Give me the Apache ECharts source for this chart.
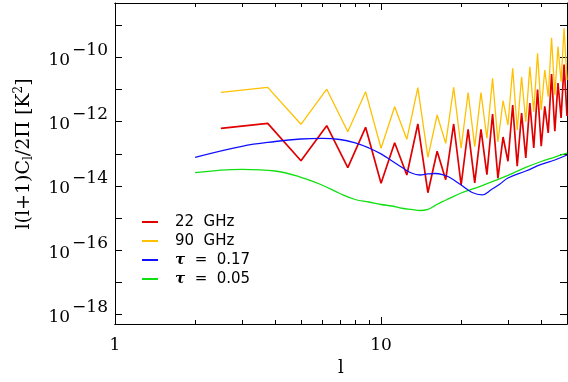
<!DOCTYPE html>
<html>
<head>
<meta charset="utf-8">
<script src="https://cdn.jsdelivr.net/npm/echarts@6/dist/echarts.min.js"></script>
<style>
  html, body { margin: 0; padding: 0; background: #fff; }
  #chart { width: 568px; height: 382px; }
</style>
</head>
<body>
<div id="chart"></div>
<script>
// multipole bins of the foreground spectra
const lBins = [2.5, 3.75, 5, 6.25, 7.5, 8.75, 10, 11.25, 12.5, 13.75, 15, 16.25, 17.5, 18.75,
  20, 21.25, 22.5, 23.75, 25, 26.25, 27.5, 28.75, 30, 31.25, 32.5, 33.75, 35, 36.25, 37.5,
  38.75, 40, 41.25, 42.5, 43.75, 45, 46.25, 47.5, 48.75, 50];
const ghz22 = [6.25e-13, 8.93e-13, 6.11e-14, 7.53e-13, 3.70e-14, 6.71e-13, 1.21e-14, 2.22e-13,
  2.19e-14, 8.51e-13, 6.15e-15, 1.20e-13, 1.57e-14, 8.51e-13, 1.07e-14, 5.81e-13, 1.24e-14,
  5.81e-13, 2.25e-14, 1.74e-12, 1.73e-14, 3.35e-13, 5.86e-14, 3.32e-12, 4.09e-14, 1.87e-12,
  7.41e-14, 3.84e-12, 1.52e-13, 1.00e-11, 1.72e-13, 3.03e-12, 4.46e-13, 3.07e-11, 5.04e-13,
  1.61e-11, 1.31e-12, 6.03e-11, 1.51e-12];
const ghz90 = [8.26e-12, 1.18e-11, 8.32e-13, 1.03e-11, 4.90e-13, 8.63e-12, 1.49e-13, 2.94e-12,
  2.84e-13, 1.15e-11, 7.80e-14, 1.62e-12, 2.13e-13, 1.18e-11, 1.49e-13, 8.03e-12, 1.67e-13,
  8.03e-12, 3.05e-13, 2.25e-11, 2.34e-13, 4.52e-12, 7.91e-13, 4.62e-11, 5.53e-13, 2.53e-11,
  1.00e-12, 5.19e-11, 2.06e-12, 1.35e-10, 2.32e-12, 4.09e-11, 6.03e-12, 4.15e-10, 6.81e-12,
  2.18e-10, 1.77e-11, 8.15e-10, 2.00e-11];

// reionisation spectra
const lCurve = [2, 3, 4, 5, 6, 7, 8, 9, 10, 11, 12, 13, 14, 15, 16, 17, 18, 20, 22, 24, 26, 28, 30, 35, 40, 45, 50];
const tau017 = [7.80e-14, 1.72e-13, 2.42e-13, 2.90e-13, 3.03e-13, 2.80e-13, 2.18e-13, 1.52e-13,
  1.00e-13, 5.98e-14, 3.75e-14, 2.53e-14, 2.19e-14, 2.36e-14, 2.44e-14, 2.27e-14, 1.90e-14,
  1.07e-14, 6.25e-15, 5.30e-15, 7.74e-15, 1.15e-14, 1.77e-14, 2.92e-14, 4.66e-14, 6.43e-14, 9.20e-14];
const tau005 = [2.58e-14, 3.30e-14, 2.92e-14, 1.86e-14, 1.07e-14, 5.81e-15, 3.78e-15, 3.16e-15,
  2.64e-15, 2.37e-15, 2.02e-15, 1.85e-15, 1.72e-15, 1.87e-15, 2.49e-15, 3.23e-15, 4.00e-15,
  6.03e-15, 7.91e-15, 1.03e-14, 1.33e-14, 1.68e-14, 2.13e-14, 3.78e-14, 5.77e-14, 7.96e-14, 1.06e-13];

// axis ticks
const xMajor = [1, 10];
const xMinor = [2, 3, 4, 5, 6, 7, 8, 9, 20, 30, 40];
const yTicks = [1e-18, 1e-17, 1e-16, 1e-15, 1e-14, 1e-13, 1e-12, 1e-11, 1e-10, 1e-9];
const yLabels = [1e-18, 1e-16, 1e-14, 1e-12, 1e-10];

const pair = (xs, ys) => xs.map((x, i) => [x, ys[i]]);

const serif = 'DejaVu Serif';
const black = '#000';

function xAxisOf(pos, ticks, len, labels) {
  return {
    type: 'log', position: pos, min: 1, max: 50,
    axisLine: { show: true, lineStyle: { color: black, width: 1 } },
    axisTick: { show: true, inside: true, length: len, customValues: ticks, lineStyle: { color: black } },
    axisLabel: labels ? {
      show: true, customValues: xMajor, margin: 13,
      fontFamily: serif, fontSize: 17, color: black,
      formatter: v => String(Math.round(v))
    } : { show: false },
    splitLine: { show: false },
    minorTick: { show: false }
  };
}

function yAxisOf(pos, labels) {
  return {
    type: 'log', position: pos, min: 5e-19, max: 5e-9,
    axisLine: { show: true, lineStyle: { color: black, width: 1 } },
    axisTick: { show: true, inside: true, length: 7, customValues: yTicks, lineStyle: { color: black } },
    axisLabel: labels ? {
      show: true, customValues: yLabels, margin: 7, color: black,
      formatter: v => '{b|10}{s|−' + Math.abs(Math.round(Math.log10(v))) + '}',
      rich: {
        b: { fontFamily: serif, fontSize: 17, color: black, padding: [6, 2, 0, 0] },
        s: { fontFamily: serif, fontSize: 17, color: black, padding: [0, 0, 14, 0] }
      }
    } : { show: false },
    splitLine: { show: false }
  };
}

let bottom = xAxisOf('bottom', xMajor, 7, true);
bottom.name = 'l';
bottom.nameLocation = 'middle';
bottom.nameGap = 34;
bottom.nameTextStyle = { fontFamily: serif, fontSize: 18, color: black };

let left = yAxisOf('left', true);
left.name = '{t|l(l+1)C}{sub|l}{t|/2Π [K}{sup|2}{t|]}';
left.nameLocation = 'middle';
left.nameGap = 80;
left.nameTextStyle = {
  padding: [0, 0, 0, 19],
  rich: {
    t: { fontFamily: serif, fontSize: 19, color: black },
    sub: { fontFamily: serif, fontSize: 12, color: black, padding: [10, 0, 0, 0] },
    sup: { fontFamily: serif, fontSize: 12, color: black, padding: [0, 0, 10, 0] }
  }
};

let myecharts = echarts.init(document.getElementById('chart'), null, { renderer: 'canvas' });
myecharts.setOption({
  animation: false,
  backgroundColor: '#fff',
  grid: { left: 115, top: 3, width: 452, height: 321, containLabel: false },
  xAxis: [
    bottom,
    xAxisOf('bottom', xMinor, 4, false),
    xAxisOf('top', xMajor, 7, false),
    xAxisOf('top', xMinor, 4, false)
  ],
  yAxis: [left, yAxisOf('right', false)],
  legend: {
    orient: 'vertical', left: 137, top: 208,
    itemWidth: 16, itemHeight: 2, itemGap: 1,
    icon: 'rect',
    data: ['22 GHz', '90 GHz', 'τ = 0.17', 'τ = 0.05'],
    formatter: name => name.startsWith('τ') ? '{i|τ}' + name.slice(1).replace(/ /g, '  ') : name.replace(/ /g, '  '),
    textStyle: {
      fontFamily: 'DejaVu Sans', fontSize: 15, color: black, lineHeight: 18, padding: [0, 0, 0, 12],
      rich: { i: { fontFamily: serif, fontStyle: 'italic', fontWeight: 'bold', fontSize: 15, color: black } }
    }
  },
  series: [
    {
      name: '90 GHz', type: 'line', data: pair(lBins, ghz90),
      showSymbol: false, color: '#ffc000', lineStyle: { width: 1.3 }
    },
    {
      name: '22 GHz', type: 'line', data: pair(lBins, ghz22),
      showSymbol: false, color: '#e00000', lineStyle: { width: 1.7 }
    },
    {
      name: 'τ = 0.05', type: 'line', data: pair(lCurve, tau005),
      showSymbol: false, smooth: 0.4, color: '#10e010', lineStyle: { width: 1.3 }
    },
    {
      name: 'τ = 0.17', type: 'line', data: pair(lCurve, tau017),
      showSymbol: false, smooth: 0.4, color: '#1010ff', lineStyle: { width: 1.3 }
    }
  ]
});
</script>
</body>
</html>
